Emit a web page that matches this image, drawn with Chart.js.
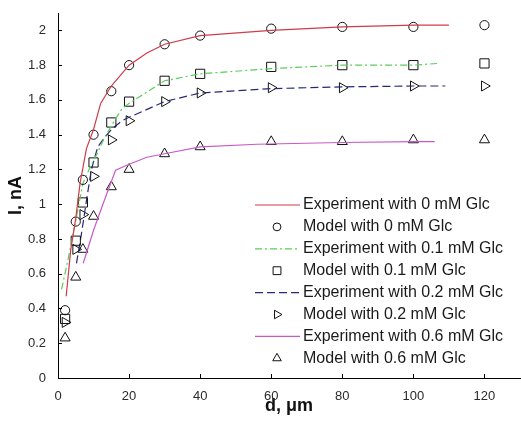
<!DOCTYPE html>
<html>
<head>
<meta charset="utf-8">
<script src="https://cdn.jsdelivr.net/npm/chart.js@4/dist/chart.umd.min.js"></script>
<style>
  html, body { margin: 0; padding: 0; background: #fff; }
</style>
</head>
<body>
<canvas id="myChart" width="521" height="423"></canvas>
<script>
const xTicks = [0, 20, 40, 60, 80, 100, 120];
const yTicks = [0, 0.2, 0.4, 0.6, 0.8, 1, 1.2, 1.4, 1.6, 1.8, 2];

// model points (markers)
const modelX = [2, 5, 7, 10, 15, 20, 30, 40, 60, 80, 100, 120];
const model0 = [0.39, 0.90, 1.14, 1.40, 1.65, 1.80, 1.92, 1.97, 2.01, 2.02, 2.02, 2.03];
const model01 = [0.34, 0.79, 1.01, 1.24, 1.47, 1.59, 1.71, 1.75, 1.79, 1.80, 1.80, 1.81];
const model02 = [0.32, 0.74, 0.94, 1.16, 1.37, 1.48, 1.59, 1.64, 1.67, 1.67, 1.68, 1.68];
const model06 = [0.23, 0.58, 0.74, 0.93, 1.10, 1.20, 1.29, 1.33, 1.36, 1.36, 1.37, 1.37];

// experiment curves
const exp0X = [2.3, 3.6, 5, 6.2, 8, 10, 12, 15, 20, 25, 30, 40, 60, 80, 100, 110];
const exp0Y = [0.47, 0.74, 0.92, 1.12, 1.32, 1.43, 1.58, 1.68, 1.80, 1.87, 1.92, 1.97, 2.00, 2.02, 2.03, 2.03];
const exp01X = [1, 2.4, 3.8, 5.6, 7, 9, 11, 13, 15, 18, 20, 30, 40, 60, 80, 100, 107];
const exp01Y = [0.51, 0.64, 0.78, 0.97, 1.12, 1.21, 1.29, 1.38, 1.45, 1.55, 1.58, 1.71, 1.75, 1.78, 1.80, 1.80, 1.81];
const exp02X = [5.2, 6.6, 8, 9.4, 11.2, 13, 15, 18, 20, 30, 40, 60, 80, 100, 109];
const exp02Y = [0.66, 0.83, 1.02, 1.20, 1.33, 1.38, 1.43, 1.48, 1.50, 1.59, 1.64, 1.665, 1.675, 1.68, 1.68];
const exp06X = [7.1, 10, 13, 16.2, 20, 25, 30, 40, 56, 80, 100, 106];
const exp06Y = [0.66, 0.85, 1.02, 1.195, 1.23, 1.27, 1.29, 1.33, 1.345, 1.355, 1.36, 1.36];

const seriesLabels = [
  "Experiment with 0 mM Glc",
  "Model with 0 mM Glc",
  "Experiment with 0.1 mM Glc",
  "Model with 0.1 mM Glc",
  "Experiment with 0.2 mM Glc",
  "Model with 0.2 mM Glc",
  "Experiment with 0.6 mM Glc",
  "Model with 0.6 mM Glc",
];

function pairs(xs, ys) {
  return xs.map((x, i) => ({ x: x, y: ys[i] }));
}

function expLine(label, xs, ys, color, dash) {
  return {
    label: label,
    data: pairs(xs, ys),
    showLine: true,
    borderColor: color,
    borderWidth: 1.2,
    borderDash: dash,
    pointRadius: 0,
    fill: false,
    tension: 0,
  };
}

function modelPts(label, ys, style, radius, rotation) {
  return {
    label: label,
    data: pairs(modelX, ys),
    showLine: false,
    pointStyle: style,
    pointRadius: radius,
    pointRotation: rotation || 0,
    pointBorderColor: "#111",
    pointBackgroundColor: "rgba(0,0,0,0)",
    pointBorderWidth: 1,
  };
}

const datasets = [
  expLine(seriesLabels[0], exp0X, exp0Y, "rgb(205,60,75)", []),
  modelPts(seriesLabels[1], model0, "circle", 4.6),
  expLine(seriesLabels[2], exp01X, exp01Y, "rgb(90,205,90)", [7, 3, 2, 3]),
  modelPts(seriesLabels[3], model01, "rect", 6.5),
  expLine(seriesLabels[4], exp02X, exp02Y, "rgb(40,40,115)", [8, 4]),
  modelPts(seriesLabels[5], model02, "triangle", 5.8, 90),
  expLine(seriesLabels[6], exp06X, exp06Y, "rgb(200,90,200)", []),
  modelPts(seriesLabels[7], model06, "triangle", 5.8),
];

// small inward ticks like the original figure
const inwardTicks = {
  id: "inwardTicks",
  afterDraw(chart) {
    const ctx = chart.ctx;
    const xs = chart.scales.x;
    const ys = chart.scales.y;
    const area = chart.chartArea;
    ctx.save();
    ctx.strokeStyle = "#000";
    ctx.lineWidth = 1;
    ctx.beginPath();
    xTicks.forEach((v) => {
      const px = Math.round(xs.getPixelForValue(v)) + 0.5;
      ctx.moveTo(px, area.bottom);
      ctx.lineTo(px, area.bottom - 4);
    });
    yTicks.forEach((v) => {
      const py = Math.round(ys.getPixelForValue(v)) + 0.5;
      ctx.moveTo(area.left, py);
      ctx.lineTo(area.left + 4, py);
    });
    ctx.stroke();
    ctx.restore();
  },
};

// legend drawn inside the plot, lower right
const legendBox = {
  id: "legendBox",
  afterDraw(chart) {
    const ctx = chart.ctx;
    ctx.save();
    chart.data.datasets.forEach((ds, i) => {
      const y = 205 + i * 21.9;
      if (ds.showLine) {
        ctx.beginPath();
        ctx.strokeStyle = ds.borderColor;
        ctx.lineWidth = 1.2;
        ctx.setLineDash(ds.borderDash);
        ctx.moveTo(255, y);
        ctx.lineTo(300, y);
        ctx.stroke();
        ctx.setLineDash([]);
      } else {
        ctx.strokeStyle = "#111";
        ctx.fillStyle = "rgba(0,0,0,0)";
        ctx.lineWidth = 1;
        Chart.helpers.drawPoint(ctx, {
          pointStyle: ds.pointStyle,
          radius: ds.pointRadius * 0.85,
          rotation: ds.pointRotation,
          borderWidth: 1,
        }, 277, y);
      }
      ctx.fillStyle = "#1a1a1a";
      ctx.font = "16px 'Liberation Sans', Arial, sans-serif";
      ctx.textBaseline = "middle";
      ctx.textAlign = "left";
      ctx.fillText(ds.label, 303, y);
    });
    ctx.restore();
  },
};

const ctx = document.getElementById("myChart").getContext("2d");
const chart = new Chart(ctx, {
  type: "scatter",
  data: { datasets: datasets },
  plugins: [inwardTicks, legendBox],
  options: {
    responsive: false,
    animation: false,
    events: [],
    layout: { autoPadding: false, padding: { top: 13, right: 1, bottom: 0, left: 0 } },
    plugins: {
      legend: { display: false },
      tooltip: { enabled: false },
    },
    scales: {
      x: {
        type: "linear",
        min: 0,
        max: 130,
        afterBuildTicks: (scale) => {
          scale.ticks = xTicks.map((v) => ({ value: v }));
        },
        afterFit: (scale) => {
          scale.height = 45;
          scale.paddingLeft = 0;
          scale.paddingRight = 0;
        },
        grid: { display: false },
        border: { display: true, color: "#000", width: 1 },
        ticks: {
          padding: 3,
          color: "#2a2a2a",
          font: { family: "'Liberation Sans', Arial, sans-serif", size: 13 },
          maxRotation: 0,
          callback: (v) => String(v),
        },
        title: {
          display: true,
          text: "d, μm",
          color: "#111",
          font: { family: "'Liberation Sans', Arial, sans-serif", size: 18, weight: "bold" },
          padding: { top: 0, bottom: 6 },
        },
      },
      y: {
        type: "linear",
        min: 0,
        max: 2.1,
        afterBuildTicks: (scale) => {
          scale.ticks = yTicks.map((v) => ({ value: v }));
        },
        afterFit: (scale) => {
          scale.width = 58;
        },
        grid: { display: false },
        border: { display: true, color: "#000", width: 1 },
        ticks: {
          padding: 4,
          color: "#2a2a2a",
          font: { family: "'Liberation Sans', Arial, sans-serif", size: 13 },
          callback: (v) => String(+v.toFixed(1)),
        },
        title: {
          display: true,
          text: "I, nA",
          color: "#111",
          font: { family: "'Liberation Sans', Arial, sans-serif", size: 18, weight: "bold" },
          padding: { top: 5, bottom: 0 },
        },
      },
    },
  },
});
</script>
</body>
</html>
